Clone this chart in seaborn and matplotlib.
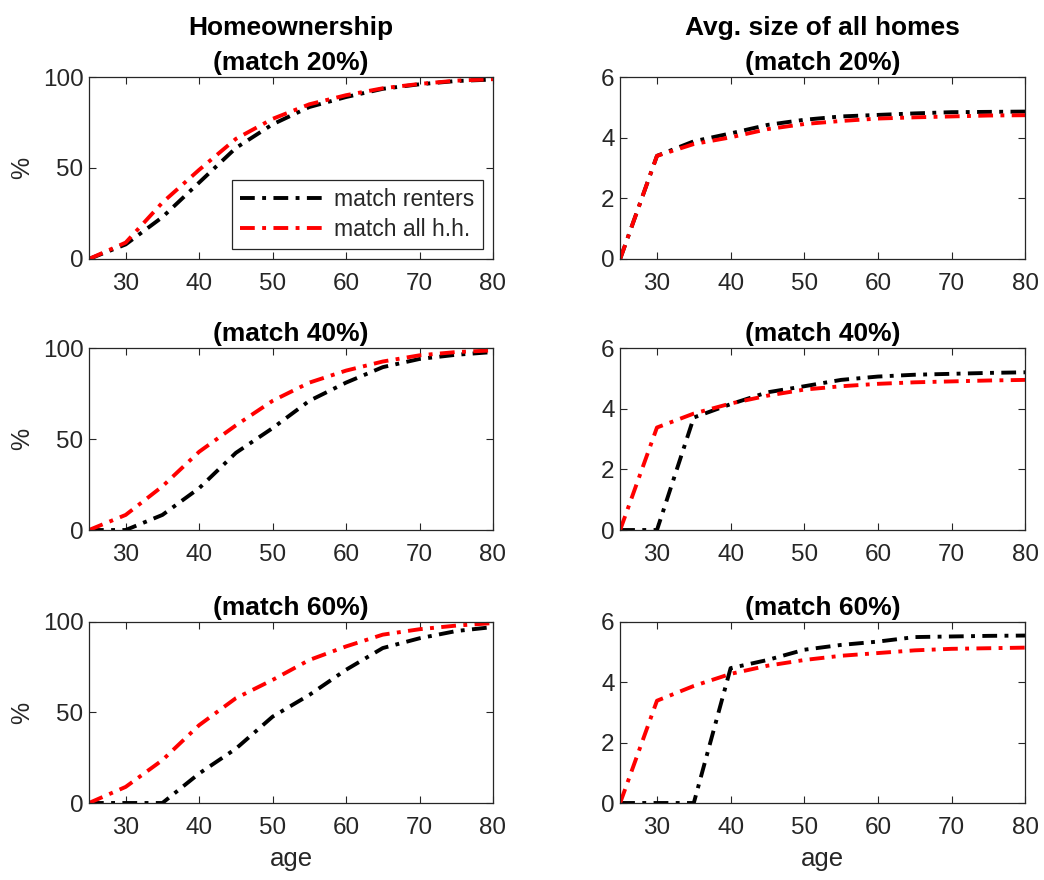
import matplotlib
matplotlib.use("Agg")
import matplotlib.pyplot as plt
import seaborn as sns
import pandas as pd

ages = [25, 30, 35, 40, 45, 50, 55, 60, 65, 70, 75, 80]

# Homeownership (%)
own20_renters = [0, 8, 23, 42, 61, 74, 83.5, 89, 93.5, 96, 97.8, 98.6]
own20_all     = [0, 9, 31, 49, 66, 77, 85, 90, 93.8, 96.2, 98, 98.8]
own40_renters = [0, 0, 8.3, 23, 42.4, 56, 71, 81, 89.5, 94, 96.3, 97.8]
own40_all     = [0, 8.3, 24, 43, 57.5, 71, 81, 87.6, 92.6, 96, 97.8, 98.7]
own60_renters = [0, 0, 0, 16.3, 30, 47.7, 59.7, 73.6, 85.6, 91, 95, 97.2]
own60_all     = [0, 8.9, 23.7, 43, 57.9, 68, 79, 86.5, 93, 96, 98, 99.4]

# Avg. size of all homes
size20_renters = [0, 3.4, 3.88, 4.14, 4.42, 4.59, 4.70, 4.75, 4.80, 4.84, 4.85, 4.86]
size20_all     = [0, 3.4, 3.79, 4.01, 4.28, 4.45, 4.55, 4.63, 4.67, 4.70, 4.73, 4.74]
size40_renters = [0, 0, 3.71, 4.15, 4.54, 4.74, 4.95, 5.06, 5.12, 5.15, 5.18, 5.20]
size40_all     = [0, 3.38, 3.84, 4.17, 4.43, 4.63, 4.74, 4.82, 4.87, 4.90, 4.93, 4.95]
size60_renters = [0, 0, 0, 4.47, 4.74, 5.08, 5.24, 5.35, 5.50, 5.52, 5.54, 5.55]
size60_all     = [0, 3.39, 3.88, 4.28, 4.55, 4.74, 4.88, 4.97, 5.06, 5.11, 5.13, 5.15]

series_labels = ["match renters", "match all h.h."]
left_titles = ["Homeownership\n(match 20%)", "(match 40%)", "(match 60%)"]
right_titles = ["Avg. size of all homes\n(match 20%)", "(match 40%)", "(match 60%)"]
x_ticks = [30, 40, 50, 60, 70, 80]
left_yticks = [0, 50, 100]
right_yticks = [0, 2, 4, 6]

sns.set_theme(style="white")
plt.rcParams['font.family'] = ['Liberation Sans', 'DejaVu Sans']

fig = plt.figure(figsize=(10.44, 8.8), dpi=100)

col_x = [0.0852, 0.594]
col_w = [0.387, 0.388]
row_b = [0.7057, 0.3977, 0.0875]
row_h = [0.2068, 0.2068, 0.2057]

left_data = [(own20_renters, own20_all), (own40_renters, own40_all), (own60_renters, own60_all)]
right_data = [(size20_renters, size20_all), (size40_renters, size40_all), (size60_renters, size60_all)]

dash = (0, (3.8, 1.9, 1.0, 1.9))
axcol = (0.15, 0.15, 0.15)

def style_ax(ax, yticks, ylim):
    ax.set_xlim(25, 80)
    ax.set_ylim(*ylim)
    ax.set_xticks(x_ticks)
    ax.set_yticks(yticks)
    ax.tick_params(direction='in', length=5, width=0.8, colors=axcol, labelsize=17.5,
                   top=True, right=True, bottom=True, left=True, pad=4)
    ax.tick_params(axis='x', pad=10)
    for sp in ax.spines.values():
        sp.set_color(axcol)
        sp.set_linewidth(0.9)
        sp.set_visible(True)
    ax.set_facecolor('white')

for r in range(3):
    for c in range(2):
        ax = fig.add_axes([col_x[c], row_b[r], col_w[c], row_h[r]])
        data = left_data[r] if c == 0 else right_data[r]
        df = pd.DataFrame({"age": ages * 2,
                           "value": list(data[0]) + list(data[1]),
                           "series": [series_labels[0]] * len(ages) + [series_labels[1]] * len(ages)})
        for s, col in zip(series_labels, ["black", "red"]):
            sns.lineplot(data=df[df.series == s], x="age", y="value", color=col,
                         linewidth=2.8, linestyle=dash, label=s, ax=ax, legend=False)
        title = left_titles[r] if c == 0 else right_titles[r]
        ax.set_title(title, fontsize=19, fontweight='bold', color='black', pad=5,
                     linespacing=1.6)
        if c == 0:
            style_ax(ax, left_yticks, (0, 100))
            ax.set_ylabel("%", fontsize=18, color=axcol, labelpad=6)
        else:
            style_ax(ax, right_yticks, (0, 6))
            ax.set_ylabel("")
        if r == 2:
            ax.set_xlabel("age", fontsize=18.5, color=axcol, labelpad=6)
        else:
            ax.set_xlabel("")
        if r == 0 and c == 0:
            leg = ax.legend(loc='lower right', fontsize=16.5, frameon=True, fancybox=False,
                            borderaxespad=0.45, handlelength=3.7, borderpad=0.35,
                            labelspacing=0.3, handletextpad=0.4)
            leg.get_frame().set_edgecolor(axcol)
            leg.get_frame().set_linewidth(0.9)
            leg.get_frame().set_alpha(1)

fig.savefig("out.png", dpi=100, facecolor='white')
